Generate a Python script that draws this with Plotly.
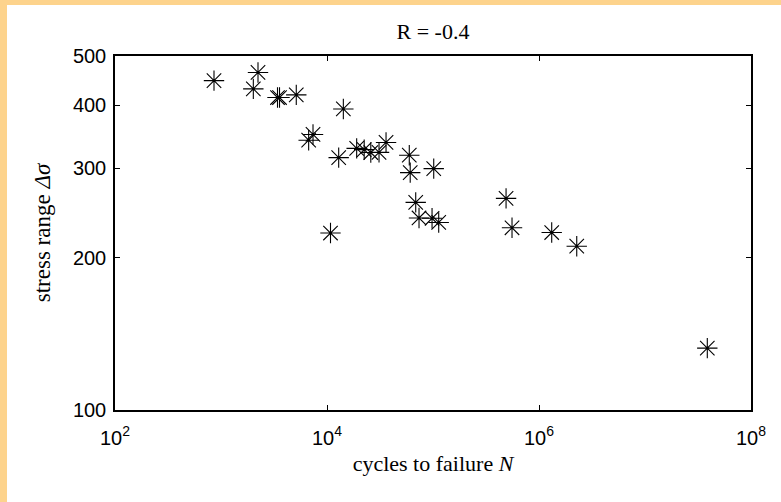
import numpy as np
import plotly.graph_objects as go

# Fatigue test results at stress ratio R = -0.4
cycles_to_failure = [
    859, 2018, 2234, 3412, 3565, 5130, 6714, 7380, 14260, 12890,
    10790, 19050, 22430, 25890, 30960, 36060, 59740, 60950, 101600,
    68710, 73810, 97950, 113200, 488900, 556500, 1318000, 2270000,
    38700000,
]
stress_range = [
    447, 430.6, 464, 414, 414, 419, 341, 350, 393, 315,
    223.6, 328.5, 326.6, 322.4, 322.6, 337.5, 318.5, 294.2, 299.6,
    257, 239.4, 239.1, 234.6, 261.7, 229.0, 224.1, 210.6,
    132.5,
]
x_tick_exponents = [2, 4, 6, 8]
y_tick_values = [100, 200, 300, 400, 500]

W, H = 781, 502
ML, MR, MT, MB = 115, 30, 56, 92
PW, PH = W - ML - MR, H - MT - MB

ORANGE = "rgb(253,211,140)"
SERIF = "Liberation Serif, Times New Roman, serif"
SANS = "Liberation Sans, Arial, sans-serif"


def px_to_paper_x(px):
    return (px - ML) / PW


def px_to_paper_y(py):
    return (H - MB - py) / PH


fig = go.Figure()
fig.add_trace(
    go.Scatter(
        x=cycles_to_failure,
        y=stress_range,
        mode="markers",
        marker=dict(
            symbol="asterisk-open",
            size=17,
            color="black",
            line=dict(color="black", width=1.1),
        ),
        showlegend=False,
        cliponaxis=False,
    )
)

# orange frame along the top and left edges of the figure
fig.add_shape(
    type="rect", xref="paper", yref="paper", layer="below",
    x0=px_to_paper_x(0), x1=px_to_paper_x(W),
    y0=px_to_paper_y(5), y1=px_to_paper_y(0),
    fillcolor=ORANGE, line=dict(width=0),
)
fig.add_shape(
    type="rect", xref="paper", yref="paper", layer="below",
    x0=px_to_paper_x(0), x1=px_to_paper_x(7),
    y0=px_to_paper_y(H), y1=px_to_paper_y(0),
    fillcolor=ORANGE, line=dict(width=0),
)

axis_common = dict(
    type="log",
    showgrid=False,
    zeroline=False,
    showline=True,
    linecolor="black",
    linewidth=1.5,
    mirror="ticks",
    ticks="inside",
    ticklen=5,
    tickwidth=1,
    tickcolor="black",
)

fig.update_xaxes(
    **axis_common,
    range=[2, 8],
    tickvals=[10 ** e for e in x_tick_exponents],
    ticktext=[f"10<sup>{e}</sup>" for e in x_tick_exponents],
    tickfont=dict(family=SANS, size=20, color="black"),
    ticklabelstandoff=9,
    title=dict(
        text="cycles to failure <i>N</i>",
        font=dict(family=SERIF, size=22, color="black"),
        standoff=8,
    ),
)
fig.update_yaxes(
    **axis_common,
    range=[2, np.log10(500)],
    tickvals=y_tick_values,
    ticktext=[str(v) for v in y_tick_values],
    tickfont=dict(family=SANS, size=20, color="black"),
    ticklabelstandoff=3,
    title=dict(
        text="stress range <i>Δσ</i>",
        font=dict(family=SERIF, size=23, color="black"),
        standoff=16,
    ),
)

fig.update_layout(
    width=W,
    height=H,
    margin=dict(l=ML, r=MR, t=MT, b=MB),
    paper_bgcolor="white",
    plot_bgcolor="white",
    title=dict(
        text="R = -0.4",
        font=dict(family=SERIF, size=22, color="black"),
        x=(ML + PW / 2) / W,
        xanchor="center",
        y=1 - 31 / H,
        yanchor="middle",
    ),
)

fig.write_html("out.html")
